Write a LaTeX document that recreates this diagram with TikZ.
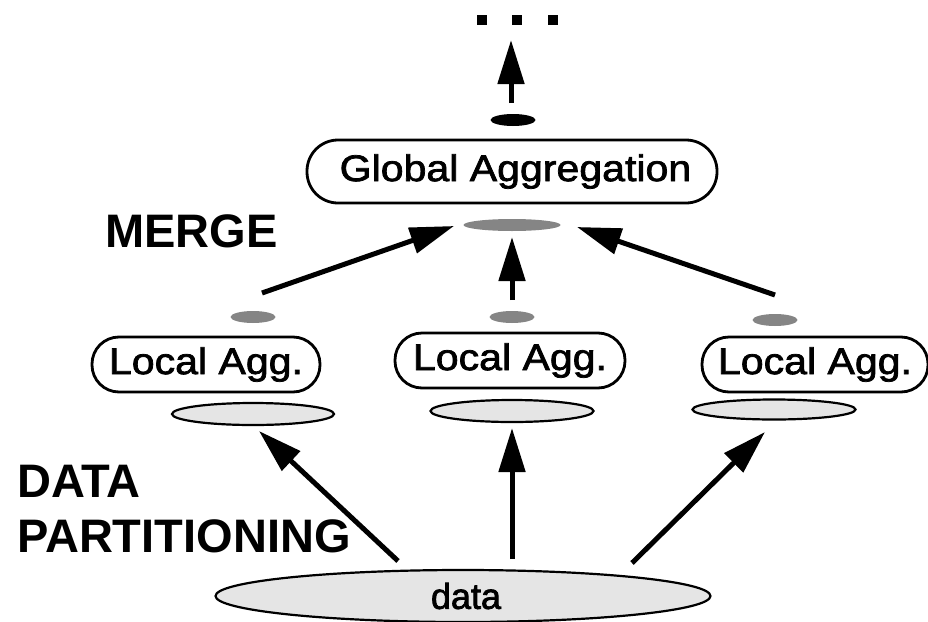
\documentclass[tikz,border=0pt]{standalone}
\usepackage{fontspec}
\setmainfont{Liberation Sans}
\newfontfamily\widefont[FakeStretch=1.11,FakeBold=2]{Liberation Sans}
\newfontfamily\datafont[FakeBold=2]{Liberation Sans}
\usetikzlibrary{arrows.meta,shapes.geometric}
\tikzset{
  aggbox/.style={draw, line width=2.8pt, rectangle, inner sep=0pt, font=\widefont\fontsize{37}{40}\selectfont},
  lightell/.style={ellipse, draw, line width=2.2pt, fill=black!10, inner sep=0pt},
  grayell/.style={ellipse, fill=black!48, inner sep=0pt, minimum width=45pt, minimum height=12pt},
  blackell/.style={ellipse, fill=black, inner sep=0pt, minimum width=45pt, minimum height=12pt},
  bigarrow/.style={line width=5pt, -{Triangle[length=44pt,width=26pt]}},
  label/.style={font=\bfseries\fontsize{47}{50}\selectfont, inner sep=0pt, anchor=base west},
  dotsq/.style={fill=black, inner sep=0pt, minimum size=10pt}
}
\begin{document}
\begin{tikzpicture}[x=1pt,y=-1pt]
\useasboundingbox (0,0) rectangle (928,621);

% continuation dots
\node[dotsq] (d1) at (482,20) {};
\node[dotsq] (d2) at (517,20) {};
\node[dotsq] (d3) at (553,20) {};

% global aggregation
\node[blackell] (gout) at (513,120) {};
\node[aggbox, minimum width=410pt, minimum height=63pt, rounded corners=31pt] (global) at (512,171.5) {\hspace{7pt}Global Aggregation};
\node[grayell, minimum width=97pt] (gin) at (512,225) {};

% local aggregations
\node[grayell] (lout1) at (253,317) {};
\node[grayell] (lout2) at (512,317) {};
\node[grayell] (lout3) at (775,320) {};
\node[aggbox, minimum width=228pt, minimum height=55pt, rounded corners=27pt] (local1) at (206,364.5) {Local Agg.};
\node[aggbox, minimum width=230pt, minimum height=55pt, rounded corners=27pt] (local2) at (510,360.5) {Local Agg.};
\node[aggbox, minimum width=226pt, minimum height=55pt, rounded corners=27pt] (local3) at (815,364.5) {Local Agg.};
\node[lightell, minimum width=162pt, minimum height=22pt] (lin1) at (253,414) {};
\node[lightell, minimum width=163pt, minimum height=22pt] (lin2) at (512,411) {};
\node[lightell, minimum width=163pt, minimum height=20pt] (lin3) at (774,409.5) {};

% data
\node[lightell, minimum width=495pt, minimum height=52pt, font=\datafont\fontsize{36}{40}\selectfont] (data) at (463,596) {\hspace{6pt}data};

% labels
\node[label] (merge) at (105,247) {MERGE};
\node[label] (dp1) at (17,497) {DATA};
\node[label] (dp2) at (17,552) {PARTITIONING};

% arrow end points
\coordinate (topT) at (511,103);
\coordinate (topH) at (511,40);
\coordinate (m1T) at (262,293);
\coordinate (m1H) at (454,226);
\coordinate (m2T) at (512,300);
\coordinate (m2H) at (512,237);
\coordinate (m3T) at (775,295);
\coordinate (m3H) at (577,227);
\coordinate (p1T) at (398,561);
\coordinate (p1H) at (259,431);
\coordinate (p2T) at (512,559);
\coordinate (p2H) at (512,428);
\coordinate (p3T) at (632,563);
\coordinate (p3H) at (765,432);

\draw[bigarrow] (topT) -- (topH);
\draw[bigarrow] (m1T) -- (m1H);
\draw[bigarrow] (m2T) -- (m2H);
\draw[bigarrow] (m3T) -- (m3H);
\draw[bigarrow] (p1T) -- (p1H);
\draw[bigarrow] (p2T) -- (p2H);
\draw[bigarrow] (p3T) -- (p3H);
\end{tikzpicture}
\end{document}
